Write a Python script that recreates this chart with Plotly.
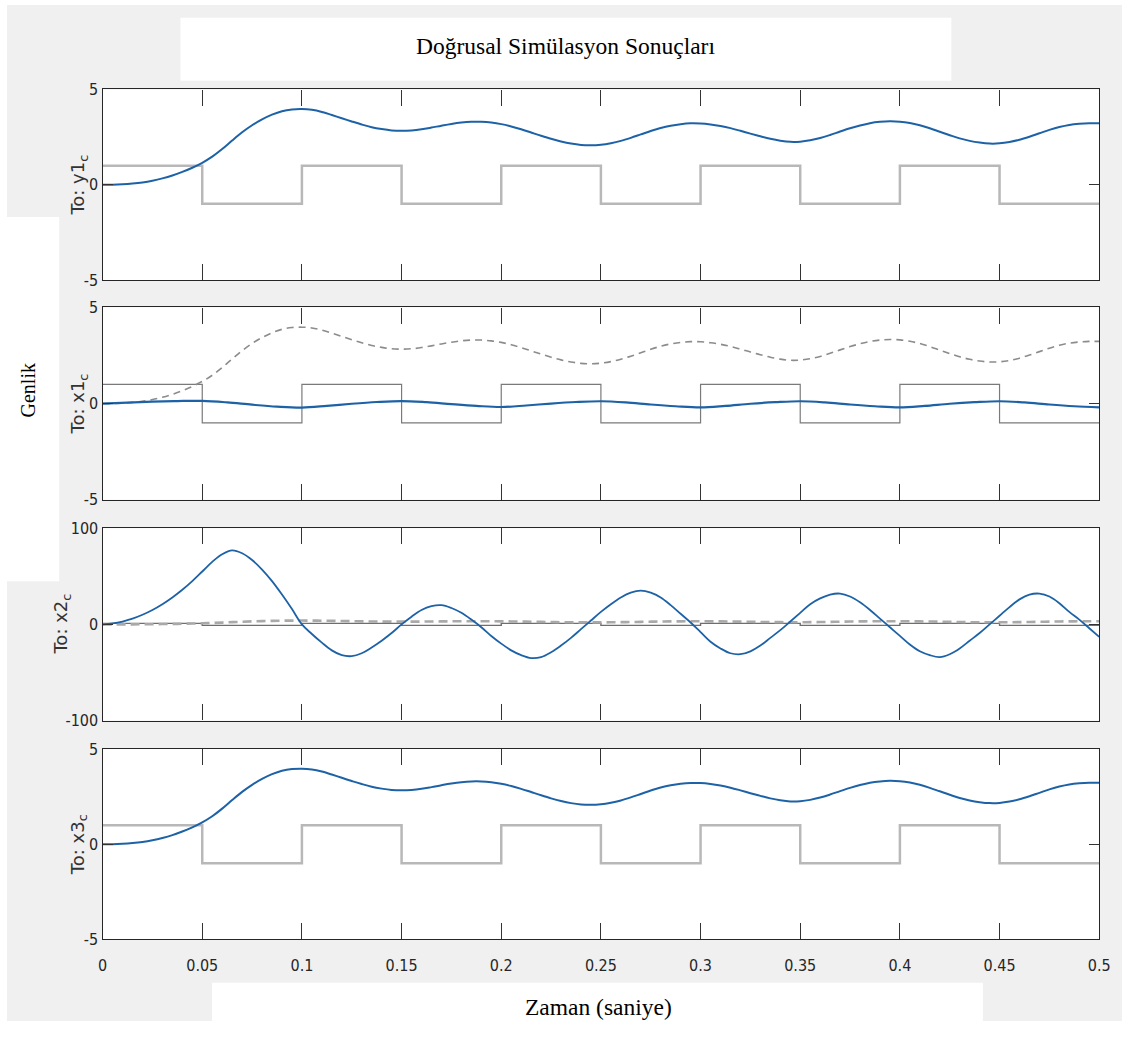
import plotly.graph_objects as go

# ---- response samples on a 5 ms grid (time in s) ----
t_grid = [round(0.005 * k, 3) for k in range(101)]

y1 = [0.00, 0.00, 0.02, 0.06, 0.12, 0.21, 0.33, 0.48, 0.67, 0.89,
      1.15, 1.47, 1.87, 2.32, 2.75, 3.12, 3.43, 3.68, 3.86, 3.95,
      3.97, 3.93, 3.82, 3.66, 3.49, 3.32, 3.16, 3.02, 2.92, 2.85,
      2.83, 2.85, 2.91, 3.00, 3.10, 3.19, 3.26, 3.30, 3.30, 3.26,
      3.18, 3.06, 2.91, 2.74, 2.57, 2.41, 2.27, 2.16, 2.09, 2.07,
      2.10, 2.18, 2.30, 2.46, 2.64, 2.82, 2.98, 3.10, 3.18, 3.22,
      3.21, 3.16, 3.08, 2.97, 2.83, 2.68, 2.54, 2.41, 2.31, 2.25,
      2.26, 2.33, 2.45, 2.61, 2.79, 2.96, 3.11, 3.23, 3.30, 3.33,
      3.31, 3.24, 3.12, 2.96, 2.78, 2.60, 2.43, 2.30, 2.21, 2.16,
      2.17, 2.24, 2.36, 2.52, 2.70, 2.88, 3.03, 3.14, 3.20, 3.23,
      3.23]

x2 = [0, 1, 3, 6, 10, 15, 21, 28, 36, 45,
      55, 65, 73, 77, 74, 67, 57, 45, 31, 16,
      0, -10, -19, -27, -32, -33, -30, -24, -17, -9,
      0, 8, 15, 19, 20, 17, 12, 5, -3, -12,
      -20, -27, -32, -35, -34, -29, -22, -14, -5, 4,
      13, 21, 28, 33, 35, 33, 28, 20, 11, 2,
      -8, -18, -25, -30, -31, -28, -22, -14, -6, 3,
      12, 21, 27, 31, 32, 29, 23, 15, 6, -3,
      -12, -21, -28, -32, -34, -31, -25, -17, -9, 0,
      9, 18, 26, 31, 32, 29, 22, 13, 5, -4,
      -13]

# third state follows the output
x3 = list(y1)

t_x1 = [0.000, 0.0125, 0.025, 0.0375, 0.050, 0.0625, 0.075, 0.0875, 0.100, 0.1125, 0.125,
        0.1375, 0.150, 0.1625, 0.175, 0.1875, 0.200, 0.2125, 0.225, 0.2375, 0.250, 0.2625,
        0.275, 0.2875, 0.300, 0.3125, 0.325, 0.3375, 0.350, 0.3625, 0.375, 0.3875, 0.400,
        0.4125, 0.425, 0.4375, 0.450, 0.4625, 0.475, 0.4875, 0.500]
x1 = [0.00, 0.05, 0.10, 0.13, 0.14, 0.06, -0.06, -0.16, -0.21, -0.12, -0.01,
      0.08, 0.13, 0.07, -0.03, -0.12, -0.18, -0.10, 0.00, 0.08, 0.12, 0.06,
      -0.05, -0.14, -0.20, -0.12, -0.01, 0.07, 0.12, 0.06, -0.05, -0.14, -0.20,
      -0.12, -0.01, 0.07, 0.12, 0.06, -0.05, -0.14, -0.20]

# ---- square-wave input: level held from each switching instant ----
u_t = [0.00, 0.05, 0.10, 0.15, 0.20, 0.25, 0.30, 0.35, 0.40, 0.45, 0.50]
u = [1, -1, 1, -1, 1, -1, 1, -1, 1, -1, -1]

# ---- ticks and labels ----
x_tickvals = [0, 0.05, 0.1, 0.15, 0.2, 0.25, 0.3, 0.35, 0.4, 0.45, 0.5]
x_ticktext = ["0", "0.05", "0.1", "0.15", "0.2", "0.25", "0.3", "0.35", "0.4", "0.45", "0.5"]
y_small_vals = [-5, 0, 5]
y_small_text = ["-5", "0", "5"]
y_big_vals = [-100, 0, 100]
y_big_text = ["-100", "0", "100"]
panel_names = ["To: y1<sub>c</sub>", "To: x1<sub>c</sub>", "To: x2<sub>c</sub>", "To: x3<sub>c</sub>"]
title_text = "Doğrusal Simülasyon Sonuçları"
ylabel_text = "Genlik"
xlabel_text = "Zaman (saniye)"

# page size and the default 8px body margin around the figure
PAGE_W, PAGE_H = 1141, 1042
BODY = 8
W, H = PAGE_W - 2 * BODY, PAGE_H - 2 * BODY


def px(x):
    """page pixel column -> paper x"""
    return (x - BODY) / W


def py(y):
    """page pixel row -> paper y"""
    return 1 - (y - BODY) / H


BLUE = "#1d62a6"
GRAY_BG = "#f0f0f0"
TICK_FONT = dict(family="Liberation Sans Narrow, Arial Narrow, DejaVu Sans Condensed, Liberation Sans",
                 size=16, color="#262626")
SERIF = "Liberation Serif, Times New Roman, serif"

# panel frames in page pixels (top, bottom)
panels = [(90, 284), (312, 508), (537, 733), (762, 956)]
x_left, x_right = 107, 1118
x_dom = [px(x_left), px(x_right)]

fig = go.Figure()

# panel 1: output y1 with input
fig.add_trace(go.Scatter(x=u_t, y=u, mode="lines", line=dict(color="#b8b8b8", width=2.5, shape="hv"),
                         xaxis="x", yaxis="y"))
fig.add_trace(go.Scatter(x=t_grid, y=y1, mode="lines", line=dict(color=BLUE, width=2, shape="spline"),
                         xaxis="x", yaxis="y"))

# panel 2: state x1, output dashed, input
fig.add_trace(go.Scatter(x=u_t, y=u, mode="lines", line=dict(color="#7a7a7a", width=1.2, shape="hv"),
                         xaxis="x2", yaxis="y2"))
fig.add_trace(go.Scatter(x=t_grid, y=y1, mode="lines",
                         line=dict(color="#8c8c8c", width=1.6, dash="7px,5px", shape="spline"),
                         xaxis="x2", yaxis="y2"))
fig.add_trace(go.Scatter(x=t_x1, y=x1, mode="lines", line=dict(color=BLUE, width=2.2, shape="spline"),
                         xaxis="x2", yaxis="y2"))

# panel 3: state x2
fig.add_trace(go.Scatter(x=u_t, y=u, mode="lines", line=dict(color="#6e6e6e", width=1.4, shape="hv"),
                         xaxis="x3", yaxis="y3"))
fig.add_trace(go.Scatter(x=t_grid, y=y1, mode="lines",
                         line=dict(color="#a9a9a9", width=2.6, dash="9px,5px", shape="spline"),
                         xaxis="x3", yaxis="y3"))
fig.add_trace(go.Scatter(x=t_grid, y=x2, mode="lines", line=dict(color=BLUE, width=1.8, shape="spline"),
                         xaxis="x3", yaxis="y3"))

# panel 4: state x3 with input
fig.add_trace(go.Scatter(x=u_t, y=u, mode="lines", line=dict(color="#b8b8b8", width=2.5, shape="hv"),
                         xaxis="x4", yaxis="y4"))
fig.add_trace(go.Scatter(x=t_grid, y=x3, mode="lines", line=dict(color=BLUE, width=2, shape="spline"),
                         xaxis="x4", yaxis="y4"))

# background panels
shapes = [
    dict(type="rect", xref="paper", yref="paper", x0=px(10), x1=px(1141), y0=py(1039), y1=py(4),
         fillcolor=GRAY_BG, line=dict(width=0), layer="below"),
    dict(type="rect", xref="paper", yref="paper", x0=px(186), x1=px(968), y0=py(81), y1=py(17),
         fillcolor="white", line=dict(width=0), layer="below"),
    dict(type="rect", xref="paper", yref="paper", x0=px(0), x1=px(63), y0=py(591), y1=py(220),
         fillcolor="white", line=dict(width=0), layer="below"),
    dict(type="rect", xref="paper", yref="paper", x0=px(218), x1=px(1000), y0=py(1042), y1=py(1000),
         fillcolor="white", line=dict(width=0), layer="below"),
]
for top, bot in panels:
    shapes.append(dict(type="rect", xref="paper", yref="paper", x0=x_dom[0], x1=x_dom[1],
                       y0=py(bot), y1=py(top), fillcolor="white", line=dict(width=0), layer="below"))

layout = dict(
    width=W, height=H, margin=dict(l=0, r=0, t=0, b=0),
    paper_bgcolor="white", plot_bgcolor="white",
    shapes=shapes, showlegend=False,
)

for i, (top, bot) in enumerate(panels, start=1):
    sfx = "" if i == 1 else str(i)
    big = (i == 3)
    layout["xaxis" + sfx] = dict(
        domain=x_dom, range=[0, 0.5], anchor="y" + sfx,
        tickvals=x_tickvals, ticktext=x_ticktext, showticklabels=(i == 4),
        ticks="inside", ticklen=16, tickwidth=1, tickcolor="#333333",
        showline=True, linecolor="#262626", linewidth=1.4, mirror="ticks",
        showgrid=False, zeroline=False, tickfont=TICK_FONT, ticklabelstandoff=11,
    )
    layout["yaxis" + sfx] = dict(
        domain=[py(bot), py(top)], range=[-100, 100] if big else [-5, 5], anchor="x" + sfx,
        tickvals=y_big_vals if big else y_small_vals,
        ticktext=y_big_text if big else y_small_text,
        ticks="inside", ticklen=10, tickwidth=1.2, tickcolor="#333333",
        showline=True, linecolor="#262626", linewidth=1.4, mirror="ticks",
        showgrid=False, zeroline=False, tickfont=TICK_FONT, ticklabelstandoff=0,
    )

annotations = [
    dict(text=title_text, x=px(577), y=py(46), xref="paper", yref="paper", showarrow=False,
         xanchor="center", yanchor="middle", font=dict(family=SERIF, size=23.5, color="black")),
    dict(text=ylabel_text, x=px(31), y=py(397), xref="paper", yref="paper", showarrow=False,
         xanchor="center", yanchor="middle", textangle=-90,
         font=dict(family=SERIF, size=20, color="black")),
    dict(text=xlabel_text, x=px(610), y=py(1025), xref="paper", yref="paper", showarrow=False,
         xanchor="center", yanchor="middle", font=dict(family=SERIF, size=23.5, color="black")),
]
label_x = [83, 83, 66, 83]
for name, (top, bot), lx in zip(panel_names, panels, label_x):
    annotations.append(dict(text=name, x=px(lx), y=py((top + bot) / 2), xref="paper", yref="paper",
                            showarrow=False, textangle=-90, xanchor="center", yanchor="middle",
                            font=dict(family="DejaVu Sans, Liberation Sans, sans-serif", size=18,
                                      color="#333333")))
layout["annotations"] = annotations

fig.update_layout(**layout)
fig.write_html("out.html")
